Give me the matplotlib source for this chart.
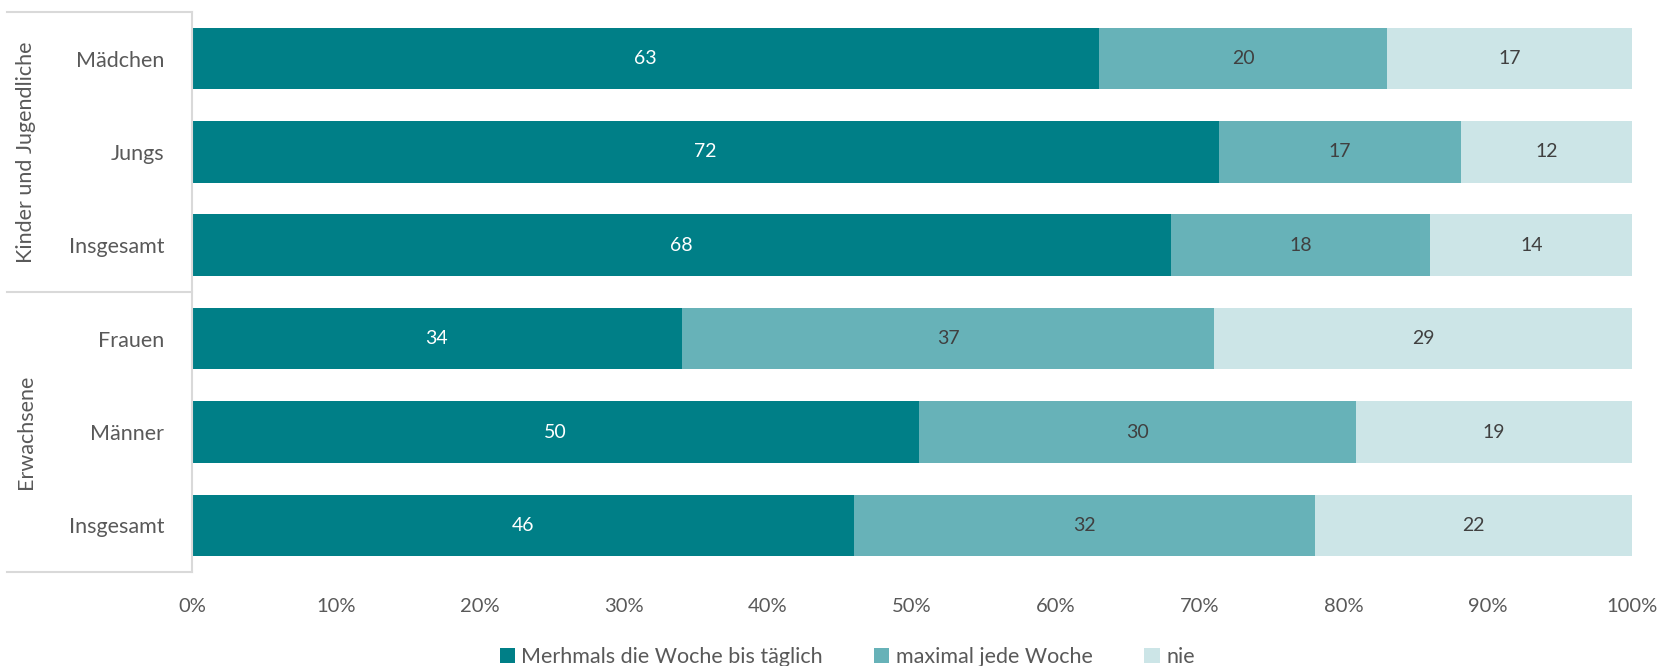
import matplotlib
matplotlib.use("Agg")
import matplotlib.pyplot as plt
from matplotlib.lines import Line2D
from matplotlib.ticker import PercentFormatter
import numpy as np

# =============================================================================
# DATEN
# =============================================================================
kategorien = ["Mädchen", "Jungs", "Insgesamt", "Frauen", "Männer", "Insgesamt"]
gruppen = ["Kinder und Jugendliche", "Erwachsene"]

mehrmals = [63, 72, 68, 34, 50, 46]
maximal = [20, 17, 18, 37, 30, 32]
nie = [17, 12, 14, 29, 19, 22]

serien = ["Merhmals die Woche bis täglich", "maximal jede Woche", "nie"]
farben = ["#007f87", "#67b2b8", "#cce5e7"]
textfarben = ["white", "#404040", "#404040"]

plt.rcParams["font.family"] = ["Lato", "DejaVu Sans"]

# =============================================================================
# GRAFIK
# =============================================================================
fig = plt.figure(figsize=(16.61, 6.66), dpi=100)
ax = fig.add_axes([0.1156, 0.1411, 0.867, 0.841])

werte = np.array([mehrmals, maximal, nie], dtype=float)
summe = werte.sum(axis=0)
anteile = werte / summe * 100

y = np.arange(len(kategorien))
links = np.zeros(len(kategorien))
for i in range(3):
    ax.barh(y, anteile[i], left=links, height=0.66, color=farben[i],
            label=serien[i])
    for j in range(len(kategorien)):
        ax.text(links[j] + anteile[i][j] / 2, y[j], f"{int(werte[i][j])}",
                ha="center", va="center", fontsize=14, color=textfarben[i])
    links += anteile[i]

ax.set_xlim(0, 100)
ax.set_ylim(5.5, -0.5)
ax.set_yticks(y)
ax.set_yticklabels(kategorien, fontsize=15.5, color="#595959")
ax.set_xticks(np.arange(0, 101, 10))
ax.xaxis.set_major_formatter(PercentFormatter(decimals=0))
ax.tick_params(axis="x", length=0, pad=19, labelsize=14.5, labelcolor="#595959")
ax.tick_params(axis="y", length=0, pad=20)

for s in ["top", "right", "bottom"]:
    ax.spines[s].set_visible(False)
ax.spines["left"].set_color("#d9d9d9")
ax.spines["left"].set_linewidth(1.5)

# Gruppen-Trennlinien links
x0, x1 = 7 / 1661, 0.1156
for yy in [-0.5, 2.5, 5.5]:
    yf = fig.transFigure.inverted().transform(ax.transData.transform((0, yy)))[1]
    fig.add_artist(Line2D([x0, x1], [yf, yf], color="#d9d9d9", linewidth=1.5))

for k, g in enumerate(gruppen):
    yc = fig.transFigure.inverted().transform(ax.transData.transform((0, 1 + 3 * k)))[1]
    fig.text(26 / 1661, yc, g, rotation=90, ha="center", va="center",
             fontsize=15.5, color="#595959")

fig.legend(loc="lower center", bbox_to_anchor=(0.51, -0.03), ncol=3,
           frameon=False, fontsize=15.5, handlelength=0.7, handleheight=0.7,
           columnspacing=2.4, handletextpad=0.3, labelcolor="#595959")

plt.savefig("out.png", dpi=100)
plt.close()
